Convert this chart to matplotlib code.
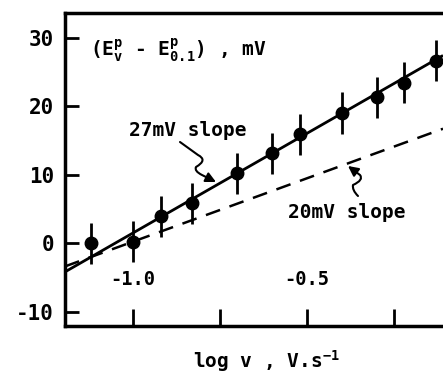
import matplotlib
matplotlib.use("Agg")
import matplotlib.pyplot as plt
from matplotlib.path import Path
from matplotlib.patches import FancyArrowPatch

# ---- data ----
log_v = [-1.12, -1.00, -0.92, -0.83, -0.70, -0.60, -0.52, -0.40, -0.30, -0.22, -0.13]
dE = [0.0, 0.2, 3.9, 5.8, 10.2, 13.1, 15.9, 19.0, 21.3, 23.4, 26.6]
err = [3.0, 3.0, 3.0, 3.0, 3.0, 3.0, 3.0, 3.0, 3.0, 3.0, 3.0]
fit27_x = [-1.195, -0.109]
fit27_y = [-4.2, 27.4]
fit20_x = [-1.195, -0.109]
fit20_y = [-3.4, 16.7]
xticks = [-1.0, -0.75, -0.5, -0.25]
xticklabels = ["-1.0", "", "-0.5", ""]
yticks = [-10, 0, 10, 20, 30]
yticklabels = ["-10", "0", "10", "20", "30"]

FONT = "DejaVu Sans Mono"
plt.rcParams["font.family"] = [FONT]
plt.rcParams["font.weight"] = "bold"
plt.rcParams["mathtext.fontset"] = "custom"
plt.rcParams["mathtext.rm"] = "DejaVu Sans Mono:bold"
plt.rcParams["mathtext.it"] = "DejaVu Sans Mono:bold"
plt.rcParams["mathtext.bf"] = "DejaVu Sans Mono:bold"

W, H = 443, 377
fig = plt.figure(figsize=(W / 100, H / 100), dpi=100)
ax = fig.add_axes([65 / W, 1 - 326 / H, 1 - 65 / W + 0.01, (326 - 13) / H])

ax.plot(fit27_x, fit27_y, color="black", lw=2.0, solid_capstyle="butt")
ax.plot(fit20_x, fit20_y, color="black", lw=1.8, dashes=(6, 4))
ax.errorbar(log_v, dE, yerr=err, fmt="o", color="black", ms=9, elinewidth=2, capsize=0)

ax.set_xlim(-1.195, -0.109 + 0.01 * (1.086 / (1 - 65 / W)))
ax.set_ylim(-12.1, 33.6)

ax.spines["right"].set_visible(False)
for s in ["left", "top", "bottom"]:
    ax.spines[s].set_linewidth(2.5)

ax.set_xticks(xticks, labels=xticklabels)
ax.set_yticks(yticks, labels=yticklabels)
ax.tick_params(axis="x", direction="in", length=12, width=2, pad=-40, labelsize=13.5)
ax.tick_params(axis="y", direction="in", length=10, width=2, pad=8, labelsize=15)

ax.text(90 / W, 1 - 50 / H, r"(E$^{p}_{v}$ - E$^{p}_{0.1}$) , mV", transform=fig.transFigure,
        fontsize=14, fontweight="bold", va="center", ha="left")
ax.text(188 / W, 1 - 131 / H, "27mV slope", transform=fig.transFigure,
        fontsize=14, fontweight="bold", va="center", ha="center")
ax.text(347 / W, 1 - 213 / H, "20mV slope", transform=fig.transFigure,
        fontsize=14, fontweight="bold", va="center", ha="center")
fig.text(267 / W, 1 - 361 / H, r"log v , V.s$^{-1}$", fontsize=14, fontweight="bold",
         va="center", ha="center")


def fp(px, py):
    return (px / W, 1 - py / H)


p1 = Path([fp(180, 142), fp(198, 155), fp(208, 160), fp(196, 167), fp(194, 171),
           fp(202, 175), fp(216, 182)],
          [Path.MOVETO, Path.LINETO, Path.CURVE3, Path.CURVE3, Path.CURVE3, Path.CURVE3, Path.LINETO])
a1 = FancyArrowPatch(path=p1, arrowstyle="-|>,head_length=6,head_width=3", color="black",
                     lw=1.5, transform=fig.transFigure)
fig.patches.append(a1)

p2 = Path([fp(358, 196), fp(352, 190), fp(353, 185), fp(364, 180), fp(360, 175),
           fp(348, 166)],
          [Path.MOVETO, Path.CURVE3, Path.CURVE3, Path.CURVE3, Path.CURVE3, Path.LINETO])
a2 = FancyArrowPatch(path=p2, arrowstyle="-|>,head_length=6,head_width=3", color="black",
                     lw=1.5, transform=fig.transFigure)
fig.patches.append(a2)

fig.savefig("out.png", dpi=100)
